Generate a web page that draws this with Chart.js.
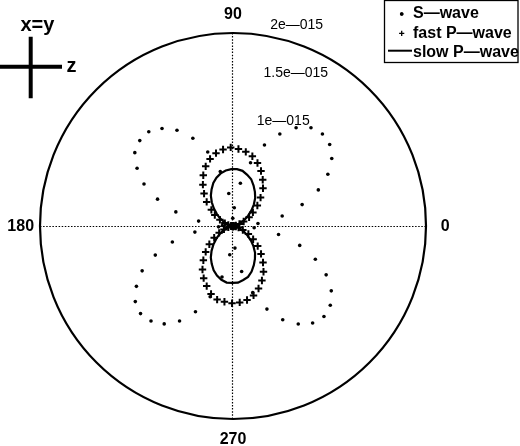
<!DOCTYPE html>
<html>
<head>
<meta charset="utf-8">
<title>S / P wave polar plot</title>
<script src="https://cdn.jsdelivr.net/npm/chart.js@4.4.1/dist/chart.umd.min.js"></script>
<style>
  html, body { margin: 0; padding: 0; background: #fff; }
  canvas { display: block; }
</style>
</head>
<body>
<canvas id="polarChart" width="520" height="446"></canvas>
<script>
// sample angles, radians
const theta = [0, 0.1, 0.2, 0.3, 0.4, 0.5, 0.6, 0.7, 0.8, 0.9,
  1.0, 1.1, 1.2, 1.3, 1.4, 1.5, 1.6, 1.7, 1.8, 1.9,
  2.0, 2.1, 2.2, 2.3, 2.4, 2.5, 2.6, 2.7, 2.8, 2.9,
  3.0, 3.1, 3.2, 3.3, 3.4, 3.5, 3.6, 3.7, 3.8, 3.9,
  4.0, 4.1, 4.2, 4.3, 4.4, 4.5, 4.6, 4.7, 4.8, 4.9,
  5.0, 5.1, 5.2, 5.3, 5.4, 5.5, 5.6, 5.7, 5.8, 5.9,
  6.0, 6.1, 6.2];

// radii, in units of 1e-15
const sWave = [0, 0.26, 0.52, 0.75, 0.96, 1.12, 1.24, 1.31, 1.33, 1.30,
  1.21, 1.07, 0.90, 0.68, 0.45, 0.19, 0.08, 0.34, 0.58, 0.81,
  1.00, 1.15, 1.25, 1.31, 1.31, 1.27, 1.16, 1.02, 0.83, 0.61,
  0.36, 0.11, 0.15, 0.40, 0.65, 0.86, 1.05, 1.18, 1.28, 1.32,
  1.30, 1.24, 1.13, 0.97, 0.77, 0.54, 0.30, 0.03, 0.23, 0.48,
  0.72, 0.93, 1.10, 1.22, 1.30, 1.33, 1.30, 1.22, 1.09, 0.92,
  0.72, 0.48, 0.22];

const fastP = [0, 0.01, 0.03, 0.07, 0.12, 0.19, 0.25, 0.33, 0.41, 0.50,
  0.57, 0.64, 0.70, 0.75, 0.78, 0.80, 0.815, 0.80, 0.775, 0.735,
  0.68, 0.61, 0.53, 0.45, 0.37, 0.28, 0.22, 0.15, 0.09, 0.05,
  0.02, 0, 0, 0.02, 0.05, 0.10, 0.16, 0.23, 0.31, 0.39,
  0.47, 0.55, 0.62, 0.68, 0.74, 0.78, 0.79, 0.80, 0.795, 0.78,
  0.75, 0.70, 0.64, 0.57, 0.49, 0.41, 0.33, 0.25, 0.18, 0.11,
  0.06, 0.03, 0.01];

const slowP = [0, 0.01, 0.02, 0.05, 0.09, 0.14, 0.19, 0.25, 0.31, 0.37,
  0.42, 0.47, 0.52, 0.55, 0.58, 0.59, 0.59, 0.58, 0.56, 0.53,
  0.49, 0.44, 0.39, 0.33, 0.27, 0.21, 0.16, 0.11, 0.07, 0.03,
  0.01, 0, 0, 0.02, 0.04, 0.07, 0.12, 0.17, 0.22, 0.28,
  0.34, 0.40, 0.45, 0.50, 0.54, 0.57, 0.59, 0.59, 0.59, 0.57,
  0.55, 0.51, 0.46, 0.41, 0.36, 0.30, 0.24, 0.18, 0.13, 0.08,
  0.05, 0.02, 0];

const seriesNames = ['S\u2014wave', 'fast P\u2014wave', 'slow P\u2014wave'];
const angleTicks = [0, 90, 180, 270];            // degrees
const angleLabels = ['0', '90', '180', '270'];
const radialTicks = [1, 1.5, 2];                 // units of 1e-15
const radialLabels = ['1e\u2014015', '1.5e\u2014015', '2e\u2014015'];
const rMax = 2;

const FONT = '"Liberation Sans", Arial, Helvetica, sans-serif';

// polar -> cartesian for the scatter scales
function toXY(r) {
  return r.map((v, i) => ({ x: v * Math.cos(theta[i]), y: v * Math.sin(theta[i]) }));
}

// circle, dotted axes, labels, legend and the x=y / z key
const polarFrame = {
  id: 'polarFrame',
  beforeDatasetsDraw(chart) {
    const { ctx, scales: { x, y } } = chart;
    const cx = x.getPixelForValue(0);
    const cy = y.getPixelForValue(0);
    const rad = x.getPixelForValue(rMax) - cx;
    ctx.save();
    ctx.strokeStyle = '#000';
    ctx.lineWidth = 1.2;
    ctx.setLineDash([1.5, 1.6]);
    ctx.beginPath();
    ctx.moveTo(x.getPixelForValue(-rMax), cy + 0.5);
    ctx.lineTo(x.getPixelForValue(rMax), cy + 0.5);
    ctx.moveTo(cx - 0.5, y.getPixelForValue(rMax));
    ctx.lineTo(cx - 0.5, y.getPixelForValue(-rMax));
    ctx.stroke();
    ctx.setLineDash([]);
    ctx.lineWidth = 2.2;
    ctx.beginPath();
    ctx.arc(cx, cy, rad, 0, 2 * Math.PI);
    ctx.stroke();
    ctx.restore();
  },
  afterDraw(chart) {
    const { ctx, scales: { x, y } } = chart;
    ctx.save();
    ctx.fillStyle = '#000';
    ctx.strokeStyle = '#000';

    // angle labels at 1.1 * rMax
    ctx.font = 'bold 16px ' + FONT;
    ctx.textAlign = 'center';
    ctx.textBaseline = 'middle';
    angleTicks.forEach((a, i) => {
      const t = a * Math.PI / 180;
      ctx.fillText(angleLabels[i],
        x.getPixelForValue(1.1 * rMax * Math.cos(t)),
        y.getPixelForValue(1.1 * rMax * Math.sin(t)) + 1);
    });

    // radial labels along 82 degrees
    ctx.font = '14px ' + FONT;
    ctx.textAlign = 'left';
    ctx.textBaseline = 'bottom';
    const a82 = 82 * Math.PI / 180;
    radialTicks.forEach((t, i) => {
      const r = t + 0.025;
      ctx.fillText(radialLabels[i],
        x.getPixelForValue(r * Math.cos(a82)) + 10,
        y.getPixelForValue(r * Math.sin(a82)));
    });

    // legend
    ctx.lineWidth = 1.3;
    ctx.strokeRect(384.5, 0.5, 133.5, 62);
    ctx.font = 'bold 16px ' + FONT;
    ctx.textBaseline = 'alphabetic';
    const rows = [18.3, 38.3, 57.3];
    const marks = [14, 33.3, 50.7];
    chart.data.datasets.forEach((ds, i) => {
      ctx.fillText(seriesNames[i], 413, rows[i]);
      if (ds.showLine) {
        ctx.lineWidth = 2;
        ctx.beginPath();
        ctx.moveTo(388, marks[i]);
        ctx.lineTo(412, marks[i]);
        ctx.stroke();
      } else {
        Chart.helpers.drawPoint(ctx, {
          pointStyle: ds.pointStyle,
          radius: ds.pointStyle === 'cross' ? 2.6 : ds.pointRadius,
          borderWidth: ds.pointStyle === 'cross' ? 1.4 : ds.borderWidth,
          rotation: 0
        }, 401.7, marks[i]);
        if (ds.pointStyle === 'circle') ctx.fill();
      }
    });

    // x=y / z direction key
    ctx.lineWidth = 4;
    ctx.beginPath();
    ctx.moveTo(0, 66.7);
    ctx.lineTo(62, 66.7);
    ctx.moveTo(30.7, 36.7);
    ctx.lineTo(30.7, 98.3);
    ctx.stroke();
    ctx.font = 'bold 20px ' + FONT;
    ctx.fillText('x=y', 20.5, 30.5);
    ctx.fillText('z', 66.5, 71.7);
    ctx.restore();
  }
};

const polarChart = new Chart(document.getElementById('polarChart'), {
  type: 'scatter',
  data: {
    datasets: [{
      label: seriesNames[0],
      data: toXY(sWave),
      pointStyle: 'circle',
      pointRadius: 1.8,
      backgroundColor: '#000',
      borderColor: '#000',
      borderWidth: 0,
      order: 3
    }, {
      label: seriesNames[1],
      data: toXY(fastP),
      pointStyle: 'cross',
      pointRadius: 3.7,
      borderColor: '#000',
      backgroundColor: '#000',
      borderWidth: 2,
      order: 2
    }, {
      label: seriesNames[2],
      data: toXY(slowP),
      showLine: true,
      pointRadius: 0,
      borderColor: '#000',
      borderWidth: 2.2,
      tension: 0,
      fill: false,
      order: 1
    }]
  },
  options: {
    responsive: false,
    animation: false,
    events: [],
    layout: { padding: { left: 40, right: 94, top: 33, bottom: 27 } },
    scales: {
      x: { type: 'linear', min: -rMax, max: rMax, display: false },
      y: { type: 'linear', min: -rMax, max: rMax, display: false }
    },
    plugins: {
      legend: { display: false },
      tooltip: { enabled: false }
    }
  },
  plugins: [polarFrame]
});
</script>
</body>
</html>
